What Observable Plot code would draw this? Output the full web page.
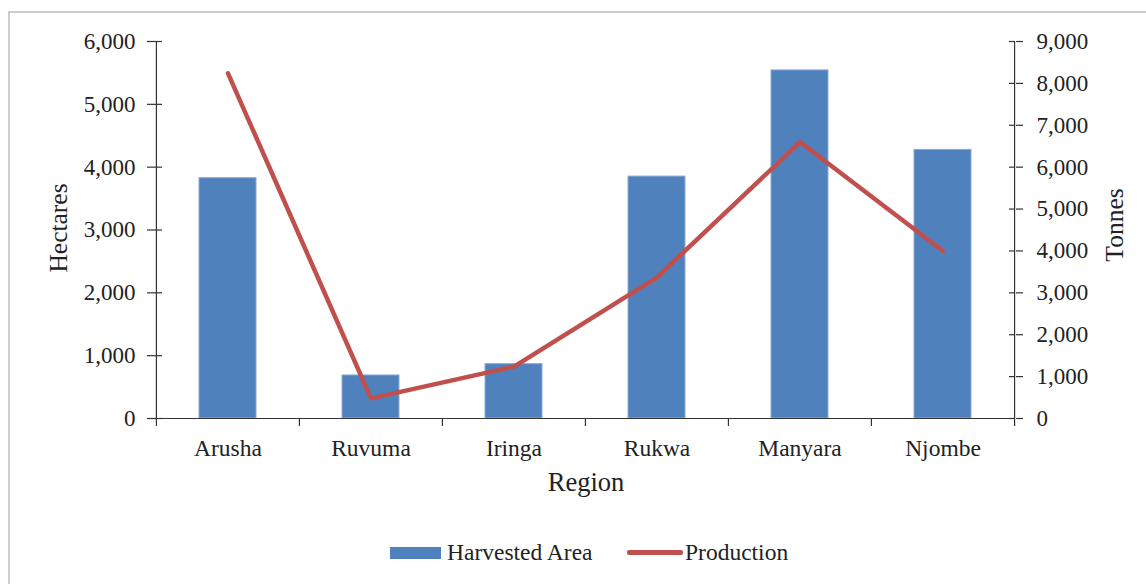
<!DOCTYPE html>
<html>
<head>
<meta charset="utf-8">
<script src="https://cdn.jsdelivr.net/npm/d3@7"></script>
<script src="https://cdn.jsdelivr.net/npm/@observablehq/plot@0.6"></script>
<style>
  html, body { margin: 0; padding: 0; background: #fff; }
  #wrap { position: relative; width: 1146px; height: 584px; overflow: hidden; font-family: "Liberation Serif", "Times New Roman", serif; }
  #border { position: absolute; left: 8px; top: 11px; width: 1160px; height: 600px; border: 2px solid #cdcdcd; box-sizing: border-box; }
  #chart { position: absolute; left: 0; top: 0; }
  #legend { position: absolute; left: 0; top: 536px; width: 1146px; height: 32px; font-size: 23.5px; color: #222; }
  .sw { position: absolute; }
  .lt { position: absolute; top: 2px; line-height: 28px; white-space: nowrap; }
</style>
</head>
<body>
<div id="wrap">
  <div id="border"></div>
  <div id="chart"></div>
  <div id="legend">
    <div class="sw" style="left:390px; top:11px; width:51px; height:12px; background:#4F81BD;"></div>
    <div class="lt" style="left:447px;">Harvested Area</div>
    <div class="sw" style="left:627px; top:14px; width:56px; height:5px; border-radius:2px; background:#C0504D;"></div>
    <div class="lt" style="left:685px;">Production</div>
  </div>
</div>
<script>
const regions = ["Arusha", "Ruvuma", "Iringa", "Rukwa", "Manyara", "Njombe"];
const hectares = [3825, 685, 865, 3850, 5540, 4275];
const tonnes = [8240, 480, 1240, 3370, 6600, 4000];
const hectareTicks = [0, 1000, 2000, 3000, 4000, 5000, 6000];
const tonneTicks = [0, 1000, 2000, 3000, 4000, 5000, 6000, 7000, 8000, 9000];

const ratio = 9000 / 6000; // tonnes per hectare-axis unit
const data = regions.map((r, i) => ({region: r, hectares: hectares[i], tonnes: tonnes[i]}));

const W = 1146, H = 520;
const mL = 156, mR = 131, mT = 41, mB = 102;
const step = (W - mL - mR) / regions.length;
const frameW = W - mL - mR;
const axisColor = "#333";
const fmt = d3.format(",");

const chart = Plot.plot({
  width: W,
  height: H,
  marginLeft: mL,
  marginRight: mR,
  marginTop: mT,
  marginBottom: mB,
  style: {fontFamily: "Liberation Serif, Times New Roman, serif", fontSize: "23px", color: "#222", background: "transparent", overflow: "visible"},
  x: {type: "band", domain: regions, paddingInner: 0.6, paddingOuter: 0.3, label: null},
  y: {domain: [0, 6000], label: null},
  marks: [
    Plot.barY(data, {x: "region", y: "hectares", fill: "#4F81BD", stroke: "#8DAAD6", strokeWidth: 1}),
    // baseline
    Plot.ruleY([0], {stroke: axisColor, strokeWidth: 1.2}),
    // left & right axis lines
    Plot.ruleX([regions[0]], {x: d => d, y1: 0, y2: 6000, dx: -step / 2, stroke: axisColor, strokeWidth: 1.2}),
    Plot.ruleX([regions[regions.length - 1]], {x: d => d, y1: 0, y2: 6000, dx: step / 2, stroke: axisColor, strokeWidth: 1.2}),
    // category boundary ticks
    Plot.ruleX(regions, {x: d => d, y1: 0, y2: 0, dx: -step / 2, insetBottom: -8, stroke: axisColor, strokeWidth: 1.2}),
    Plot.ruleX([regions[regions.length - 1]], {x: d => d, y1: 0, y2: 0, dx: step / 2, insetBottom: -8, stroke: axisColor, strokeWidth: 1.2}),
    // inner parts of y ticks
    Plot.ruleY(hectareTicks, {y: d => d, insetRight: frameW - 6, stroke: axisColor, strokeWidth: 1.2}),
    Plot.ruleY(tonneTicks.map(t => t / ratio), {y: d => d, insetLeft: frameW - 6, stroke: axisColor, strokeWidth: 1.2}),
    Plot.axisY(hectareTicks, {anchor: "left", tickSize: 9, tickPadding: 12, tickFormat: fmt, label: null, fontSize: 23, stroke: axisColor, strokeWidth: 1.2}),
    Plot.axisY(tonneTicks.map(t => t / ratio), {anchor: "right", tickSize: 7, tickPadding: 14, tickFormat: d => fmt(Math.round(d * ratio)), label: null, fontSize: 23, stroke: axisColor, strokeWidth: 1.2}),
    Plot.axisX({tickSize: 0, tickPadding: 21, label: null, fontSize: 23.5}),
    Plot.lineY(data, {x: "region", y: d => d.tonnes / ratio, stroke: "#C0504D", strokeWidth: 4.5, strokeLinejoin: "round", strokeLinecap: "round"}),
    // axis titles
    Plot.text(["Hectares"], {text: d => d, frameAnchor: "left", textAnchor: "middle", lineAnchor: "middle", rotate: -90, dx: -98, dy: -2, fontSize: 25.5, fill: "#222"}),
    Plot.text(["Tonnes"], {text: d => d, frameAnchor: "right", textAnchor: "middle", lineAnchor: "middle", rotate: -90, dx: 99, dy: -5, fontSize: 25.5, fill: "#222"}),
    Plot.text(["Region"], {text: d => d, frameAnchor: "bottom", textAnchor: "middle", lineAnchor: "bottom", dy: 72, fontSize: 26.5, fill: "#222"})
  ]
});
document.getElementById("chart").appendChild(chart);
</script>
</body>
</html>
